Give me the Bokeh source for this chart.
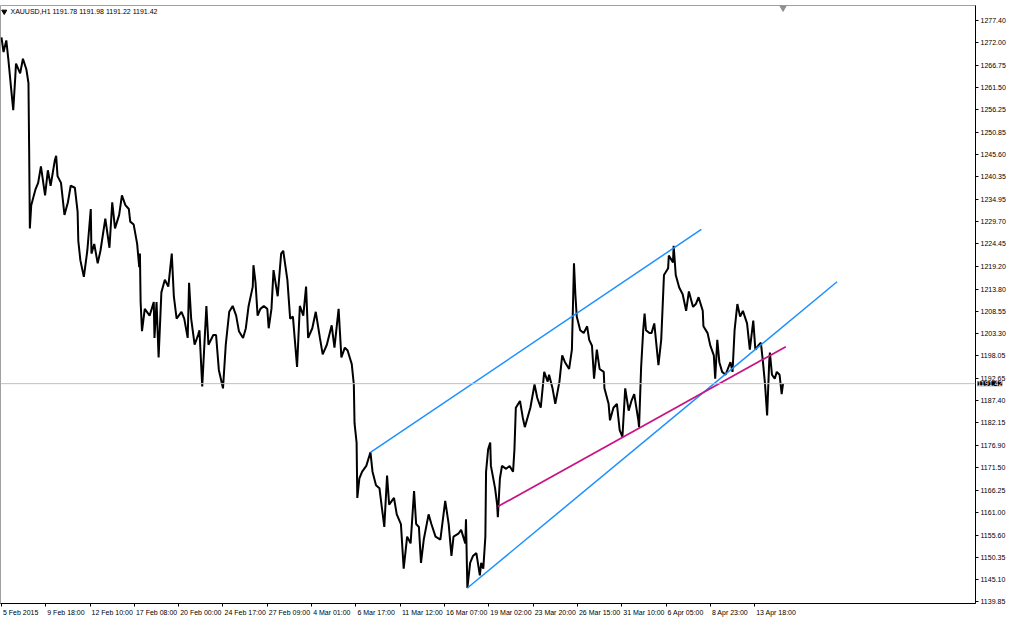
from bokeh.plotting import figure
from bokeh.models import Range1d, FixedTicker, NumeralTickFormatter, Span, Label
from bokeh.embed import file_html
from bokeh.resources import INLINE
from bokeh.core.properties import value

# ---- data (hourly bar index, price) ----
bar_idx = [0, 3, 7, 10, 14, 17, 20, 21, 27, 31, 36, 39, 40, 41, 43, 49, 53, 57, 63, 67,
           71, 77, 79, 81, 86, 91, 96, 100, 106, 110, 111, 114, 119, 124, 129, 130, 134, 139, 143, 150,
           156, 160, 164, 170, 174, 179, 184, 186, 191, 196, 199, 200, 201, 203, 207, 214, 220, 221, 224, 227,
           231, 236, 241, 246, 249, 253, 260, 264, 269, 271, 274, 279, 284, 286, 290, 296, 299, 306, 310, 314,
           320, 324, 329, 334, 339, 343, 349, 353, 357, 363, 364, 367, 370, 374, 379, 384, 386, 390, 393, 399,
           404, 407, 413, 417, 421, 427, 431, 436, 440, 443, 449, 454, 460, 464, 470, 477, 481, 487, 491, 496,
           500, 506, 509, 510, 513, 514, 517, 521, 527, 533, 536, 541, 546, 550, 553, 557, 560, 567, 571, 577,
           581, 586, 591, 596, 599, 603, 606, 610, 617, 621, 627, 634, 641, 646, 650, 653, 660, 664, 670, 671,
           673, 677, 681, 686, 691, 693, 696, 699, 700, 703, 706, 707, 713, 716, 717, 720, 723, 729, 734, 739,
           741, 743, 749, 753, 756, 760, 764, 770, 774, 779, 784, 789, 791, 796, 800, 806, 810, 814, 820, 824,
           827, 829, 831, 836, 841, 846, 849, 853, 856, 860, 864, 870, 871, 877, 879, 884, 889, 893, 897, 901,
           906, 910, 914, 920, 921, 924, 927, 929, 931, 936, 939, 943, 949, 953, 956, 957, 963, 964, 970, 971,
           974, 979, 984, 989, 993, 999, 1003, 1007, 1013, 1014, 1020, 1024, 1029, 1031, 1034, 1037, 1041, 1046, 1053, 1056,
           1059, 1063, 1067, 1071, 1077, 1081, 1086, 1089, 1093, 1097, 1100, 1103, 1106, 1109, 1110, 1113, 1117, 1120, 1124, 1127,
           1129]
price = [1273.28, 1269.84, 1272.59, 1268.01, 1261.13, 1256.09, 1264.11, 1267.09, 1264.80, 1268.24, 1265.71, 1262.51, 1246.46, 1228.13, 1233.63, 1237.29, 1238.90, 1242.79, 1235.92, 1241.88,
         1238.21, 1244.17, 1245.32, 1240.50, 1238.90, 1231.33, 1234.31, 1238.21, 1237.75, 1232.02, 1225.15, 1220.56, 1216.67, 1222.85, 1232.71, 1222.17, 1224.46, 1219.87, 1222.85, 1230.42,
         1223.54, 1234.31, 1228.13, 1231.33, 1235.92, 1233.63, 1232.71, 1229.73, 1229.04, 1224.46, 1218.96, 1222.17, 1210.71, 1203.83, 1209.10, 1207.50, 1210.71, 1202.23, 1210.71, 1197.64,
         1213.00, 1215.98, 1214.37, 1222.17, 1212.08, 1206.81, 1208.41, 1206.81, 1202.23, 1215.29, 1206.81, 1200.62, 1202.91, 1204.06, 1190.77, 1209.79, 1200.62, 1202.91, 1202.91, 1194.66,
         1190.31, 1200.62, 1208.41, 1209.79, 1207.50, 1203.83, 1202.23, 1204.52, 1209.79, 1214.37, 1219.42, 1215.29, 1207.50, 1209.10, 1209.79, 1209.10, 1204.52, 1209.10, 1218.27, 1212.08,
         1222.17, 1222.85, 1215.98, 1206.81, 1207.27, 1195.35, 1209.79, 1207.50, 1214.37, 1202.23, 1204.52, 1208.41, 1202.23, 1198.33, 1200.62, 1205.21, 1199.93, 1209.10, 1197.64, 1199.93,
         1199.25, 1196.04, 1191.22, 1182.06, 1177.47, 1164.41, 1168.99, 1170.60, 1171.97, 1175.18, 1170.60, 1167.39, 1166.70, 1161.43, 1157.53, 1169.68, 1162.80, 1164.41, 1160.51, 1158.22,
         1147.68, 1155.24, 1153.64, 1166.01, 1158.22, 1157.53, 1149.05, 1154.55, 1160.51, 1158.22, 1155.24, 1154.55, 1163.72, 1158.22, 1150.66, 1155.24, 1155.93, 1156.84, 1153.64, 1159.37,
         1143.09, 1149.05, 1150.66, 1151.34, 1146.07, 1149.05, 1147.68, 1155.24, 1170.60, 1175.87, 1177.47, 1171.97, 1166.70, 1162.80, 1159.82, 1168.99, 1171.97, 1171.28, 1171.97, 1170.60,
         1175.87, 1185.72, 1187.33, 1183.43, 1181.14, 1183.43, 1185.72, 1191.22, 1188.02, 1185.72, 1194.20, 1191.91, 1193.52, 1190.31, 1186.64, 1191.91, 1198.10, 1196.50, 1194.89, 1199.48,
         1219.87, 1212.54, 1207.27, 1204.06, 1203.37, 1204.98, 1201.77, 1200.39, 1192.60, 1199.48, 1194.89, 1194.20, 1190.31, 1186.64, 1182.74, 1185.72, 1186.64, 1180.45, 1178.85, 1190.31,
         1185.04, 1187.33, 1188.93, 1182.74, 1181.14, 1195.35, 1204.06, 1207.96, 1204.06, 1203.37, 1203.37, 1205.66, 1195.81, 1201.77, 1213.23, 1217.12, 1218.73, 1221.71, 1220.10, 1224.00,
         1217.12, 1214.14, 1212.54, 1208.64, 1213.23, 1209.56, 1210.25, 1211.85, 1208.64, 1204.98, 1203.37, 1200.39, 1198.10, 1192.60, 1201.77, 1196.50, 1194.20, 1193.52, 1196.50, 1194.20,
         1204.06, 1210.25, 1207.27, 1208.64, 1205.66, 1199.48, 1206.35, 1199.48, 1200.39, 1201.08, 1196.50, 1191.22, 1183.89, 1196.50, 1198.79, 1193.52, 1192.60, 1194.20, 1193.52, 1188.93,
         1191.42]

# time-axis ticks (every 64 hourly bars) and their labels
tick_bars = [0, 64, 128, 192, 256, 320, 384, 448, 512, 576, 640, 704, 768, 832, 896, 960, 1024, 1088]
tick_labels = ["5 Feb 2015", "9 Feb 18:00", "12 Feb 10:00", "17 Feb 08:00", "20 Feb 00:00",
               "24 Feb 17:00", "27 Feb 09:00", "4 Mar 01:00", "6 Mar 17:00", "11 Mar 12:00",
               "16 Mar 07:00", "19 Mar 02:00", "23 Mar 20:00", "26 Mar 15:00", "31 Mar 10:00",
               "6 Apr 05:00", "8 Apr 23:00", "13 Apr 18:00"]
price_ticks = [1277.40, 1272.00, 1266.75, 1261.50, 1256.25, 1250.85, 1245.60, 1240.35, 1234.95,
               1229.70, 1224.45, 1219.20, 1213.80, 1208.55, 1203.30, 1198.05, 1192.65, 1187.40,
               1182.15, 1176.90, 1171.50, 1166.25, 1161.00, 1155.60, 1150.35, 1145.10, 1139.85]

# trend lines (bar, price endpoints)
upper_bars = [533, 1011]
upper_prices = [1175.18, 1227.90]
lower_bars = [673, 1207]
lower_prices = [1143.09, 1215.52]
pink_bars = [717, 1133]
pink_prices = [1162.35, 1200.16]

symbol = "XAUUSD,H1"
ohlc = ["1191.78", "1191.98", "1191.22", "1191.42"]
last_price = 1191.42

FONT = "Liberation Sans"
FS = 7  # px
X0, X1 = -1.4, 1407.0
W, H = 1008, 618
FRAME_W = 974.0  # approx frame width in px (figure minus price axis)

# Arial-metric character widths (em) to left-align time labels after their tick
CW = {c: 0.556 for c in "0123456789"}
CW.update({" ": 0.278, ":": 0.278, "F": 0.611, "e": 0.556, "b": 0.556, "M": 0.833,
           "a": 0.556, "r": 0.333, "A": 0.667, "p": 0.556})
px_per_bar = FRAME_W / (X1 - X0)
label_pos = []
for b, lbl in zip(tick_bars, tick_labels):
    w = sum(CW.get(c, 0.556) for c in lbl) * FS
    label_pos.append(b + (w / 2 + 1.5) / px_per_bar)

p = figure(width=W, height=H, output_backend="svg", toolbar_location=None,
           x_range=Range1d(X0, X1), y_range=Range1d(1139.43, 1280.84),
           y_axis_location="right", min_border_left=0, min_border_top=0,
           min_border_bottom=0, min_border_right=0)
p.grid.visible = False
p.background_fill_color = "white"
p.border_fill_color = "white"
p.outline_line_color = "#A0A0A0"
p.outline_line_width = 1

# axes
p.xaxis.ticker = FixedTicker(ticks=label_pos, minor_ticks=tick_bars)
p.xaxis.major_label_overrides = {lp: l for lp, l in zip(label_pos, tick_labels)}
p.xaxis.major_tick_line_color = None
p.xaxis.minor_tick_line_color = "black"
p.xaxis.minor_tick_in = 0
p.xaxis.minor_tick_out = 3
p.yaxis.ticker = FixedTicker(ticks=price_ticks)
p.yaxis.formatter = NumeralTickFormatter(format="0.00")
p.yaxis.major_tick_line_color = "black"
p.yaxis.minor_tick_line_color = None
for ax in (p.xaxis, p.yaxis):
    ax.axis_line_color = "black"
    ax.major_tick_in = 0
    ax.major_tick_out = 3
    ax.major_label_text_font = FONT
    ax.major_label_text_font_size = f"{FS}px"
    ax.major_label_text_color = "black"
    ax.major_label_standoff = 2

# current price line
p.add_layout(Span(location=last_price, dimension="width", line_color="#C0C0C0", line_width=1))

# price series
p.line(bar_idx, price, line_color="black", line_width=2.0)

# trend lines
p.line(upper_bars, upper_prices, line_color="#1E90FF", line_width=1.5)
p.line(lower_bars, lower_prices, line_color="#1E90FF", line_width=1.5)
p.line(pink_bars, pink_prices, line_color="#C71585", line_width=1.7)

# header text
p.scatter([4], [1279.4], marker="inverted_triangle", size=5, color="black")
p.text([13], [1279.4], text=[symbol + "  " + " ".join(ohlc)], text_font=value(FONT),
       text_font_size="7px", text_baseline="middle", text_color="black")

# chart shift marker
p.scatter([1129], [1280.4], marker="inverted_triangle", size=7, color="#909090")

# last price box on the price axis (held in a side panel so it is not clipped to the frame)
p.add_layout(Label(x=X1, y=last_price, x_offset=2, text="1191.42", text_color="white",
                   text_font=FONT, text_font_size=f"{FS}px", text_baseline="middle",
                   background_fill_color="black"), "above")

open("out.html", "w").write(file_html(p, INLINE))
